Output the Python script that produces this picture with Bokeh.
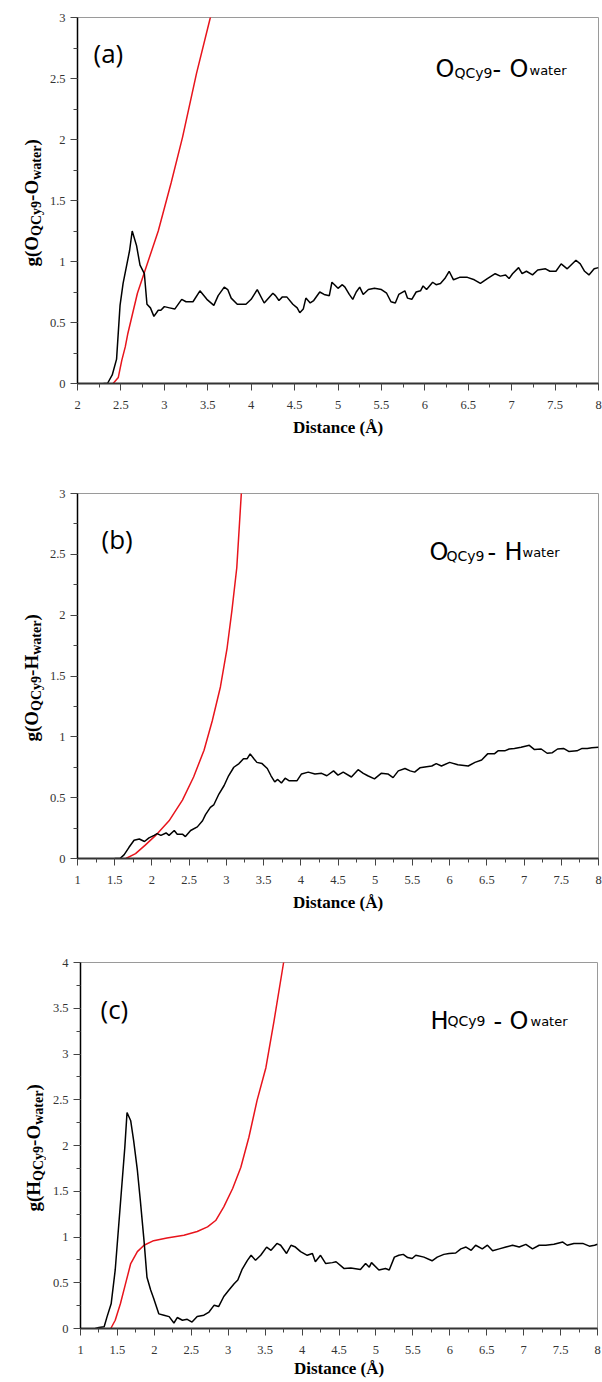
import math
from bokeh.plotting import figure
from bokeh.layouts import column, row
from bokeh.models import Range1d, SingleIntervalTicker, CustomJSTickFormatter, Label
from bokeh.embed import file_html
from bokeh.resources import INLINE

# ---------------- data ----------------
# (a) O_QCy9 - O_water
a_rdf_x = [2.30, 2.345, 2.40, 2.45, 2.49, 2.525, 2.60, 2.63, 2.68, 2.72, 2.77, 2.80, 2.84, 2.88, 2.93,
           2.96, 3.00, 3.06, 3.12, 3.20, 3.25, 3.33, 3.41, 3.49, 3.57, 3.62, 3.69, 3.73, 3.77, 3.84,
           3.94, 4.00, 4.07, 4.15, 4.25, 4.28, 4.32, 4.36, 4.41, 4.48, 4.53, 4.56, 4.60, 4.63, 4.68,
           4.72, 4.79, 4.84, 4.90, 4.93, 4.96, 5.00, 5.05, 5.08, 5.13, 5.17, 5.21, 5.25, 5.29, 5.35,
           5.42, 5.50, 5.56, 5.61, 5.66, 5.70, 5.77, 5.80, 5.85, 5.90, 5.95, 5.98, 6.02, 6.09, 6.13,
           6.18, 6.23, 6.28, 6.33, 6.40, 6.49, 6.57, 6.64, 6.72, 6.81, 6.87, 6.93, 6.97, 7.01, 7.08,
           7.12, 7.17, 7.24, 7.30, 7.39, 7.44, 7.51, 7.57, 7.64, 7.74, 7.79, 7.84, 7.89, 7.95, 8.00]
a_rdf_y = [0.00, 0.00, 0.07, 0.20, 0.64, 0.82, 1.09, 1.25, 1.13, 0.97, 0.90, 0.65, 0.62, 0.55, 0.60,
           0.60, 0.63, 0.62, 0.61, 0.69, 0.67, 0.67, 0.76, 0.69, 0.64, 0.72, 0.79, 0.77, 0.70, 0.65,
           0.65, 0.69, 0.77, 0.66, 0.74, 0.72, 0.68, 0.71, 0.71, 0.65, 0.62, 0.58, 0.61, 0.70, 0.66,
           0.68, 0.75, 0.73, 0.72, 0.83, 0.81, 0.78, 0.81, 0.79, 0.73, 0.69, 0.75, 0.79, 0.73, 0.77,
           0.78, 0.77, 0.74, 0.67, 0.66, 0.73, 0.76, 0.70, 0.69, 0.75, 0.76, 0.80, 0.77, 0.83, 0.81,
           0.82, 0.86, 0.92, 0.85, 0.87, 0.87, 0.85, 0.82, 0.86, 0.90, 0.88, 0.89, 0.86, 0.90, 0.95,
           0.90, 0.92, 0.89, 0.93, 0.94, 0.92, 0.92, 0.98, 0.94, 1.01, 0.98, 0.92, 0.89, 0.94, 0.95]
a_cn_x = [2.41, 2.47, 2.51, 2.55, 2.58, 2.69, 2.77, 2.93, 3.08, 3.21, 3.37, 3.53, 3.60]
a_cn_y = [0.00, 0.05, 0.19, 0.30, 0.41, 0.74, 0.91, 1.25, 1.65, 2.02, 2.54, 3.00, 3.22]

# (b) O_QCy9 - H_water
b_rdf_x = [1.50, 1.57, 1.625, 1.69, 1.76, 1.83, 1.90, 1.96, 2.03, 2.07, 2.12, 2.19, 2.23, 2.30, 2.34,
           2.41, 2.45, 2.52, 2.61, 2.68, 2.72, 2.785, 2.83, 2.90, 2.97, 3.03, 3.10, 3.17, 3.23, 3.28,
           3.32, 3.37, 3.41, 3.48, 3.55, 3.60, 3.65, 3.69, 3.74, 3.79, 3.84, 3.95, 4.01, 4.10, 4.19,
           4.28, 4.35, 4.44, 4.50, 4.57, 4.68, 4.77, 4.84, 4.90, 4.99, 5.08, 5.17, 5.24, 5.31, 5.40,
           5.47, 5.53, 5.60, 5.69, 5.76, 5.82, 5.89, 6.00, 6.11, 6.25, 6.34, 6.43, 6.51, 6.60, 6.65,
           6.74, 6.80, 6.87, 6.96, 7.07, 7.14, 7.23, 7.31, 7.38, 7.45, 7.53, 7.60, 7.71, 7.78, 7.85,
           7.91, 8.00]
b_rdf_y = [0.00, 0.00, 0.03, 0.09, 0.15, 0.16, 0.14, 0.17, 0.19, 0.205, 0.19, 0.21, 0.19, 0.23, 0.20,
           0.20, 0.18, 0.23, 0.26, 0.31, 0.36, 0.42, 0.44, 0.53, 0.60, 0.68, 0.75, 0.78, 0.82, 0.82,
           0.86, 0.82, 0.79, 0.78, 0.74, 0.68, 0.63, 0.65, 0.62, 0.66, 0.64, 0.64, 0.695, 0.71, 0.695,
           0.70, 0.68, 0.72, 0.685, 0.71, 0.67, 0.73, 0.70, 0.68, 0.655, 0.70, 0.695, 0.665, 0.72, 0.74,
           0.72, 0.71, 0.745, 0.755, 0.76, 0.78, 0.76, 0.79, 0.77, 0.76, 0.79, 0.81, 0.86, 0.86, 0.885,
           0.885, 0.90, 0.905, 0.915, 0.93, 0.895, 0.90, 0.865, 0.87, 0.90, 0.905, 0.88, 0.885, 0.905, 0.905,
           0.91, 0.915]
b_cn_x = [1.65, 1.78, 1.91, 2.05, 2.23, 2.41, 2.56, 2.70, 2.81, 2.92, 3.01, 3.075, 3.14, 3.20, 3.22]
b_cn_y = [0.00, 0.04, 0.11, 0.19, 0.31, 0.48, 0.67, 0.89, 1.13, 1.41, 1.73, 2.04, 2.39, 2.99, 3.20]

# (c) H_QCy9 - O_water
c_rdf_x = [1.20, 1.25, 1.32, 1.36, 1.415, 1.47, 1.54, 1.60, 1.63, 1.68, 1.72, 1.77, 1.81, 1.86, 1.90,
           1.95, 1.99, 2.06, 2.13, 2.20, 2.265, 2.31, 2.38, 2.445, 2.51, 2.58, 2.67, 2.74, 2.81, 2.87,
           2.94, 3.01, 3.08, 3.13, 3.19, 3.26, 3.31, 3.37, 3.44, 3.52, 3.58, 3.66, 3.71, 3.79, 3.85,
           3.91, 3.98, 4.07, 4.14, 4.18, 4.25, 4.32, 4.41, 4.46, 4.57, 4.66, 4.79, 4.86, 4.91, 4.94,
           5.04, 5.13, 5.18, 5.25, 5.31, 5.37, 5.43, 5.49, 5.54, 5.65, 5.76, 5.83, 5.92, 5.99, 6.08,
           6.15, 6.22, 6.29, 6.35, 6.44, 6.51, 6.58, 6.67, 6.76, 6.85, 6.94, 7.03, 7.12, 7.21, 7.30,
           7.41, 7.53, 7.59, 7.68, 7.80, 7.89, 7.96, 8.00]
c_rdf_y = [0.00, 0.01, 0.02, 0.13, 0.27, 0.64, 1.36, 1.98, 2.36, 2.27, 2.05, 1.73, 1.40, 0.96, 0.56,
           0.42, 0.33, 0.16, 0.145, 0.13, 0.06, 0.12, 0.09, 0.10, 0.07, 0.13, 0.145, 0.18, 0.255, 0.24,
           0.35, 0.42, 0.49, 0.53, 0.65, 0.745, 0.80, 0.745, 0.80, 0.89, 0.855, 0.93, 0.91, 0.82, 0.91,
           0.89, 0.84, 0.80, 0.82, 0.73, 0.80, 0.71, 0.72, 0.73, 0.655, 0.66, 0.645, 0.71, 0.67, 0.72,
           0.64, 0.655, 0.64, 0.78, 0.80, 0.81, 0.775, 0.765, 0.80, 0.78, 0.74, 0.78, 0.81, 0.82, 0.825,
           0.87, 0.89, 0.855, 0.91, 0.87, 0.91, 0.85, 0.87, 0.89, 0.91, 0.89, 0.92, 0.87, 0.91, 0.91,
           0.92, 0.945, 0.91, 0.93, 0.93, 0.90, 0.91, 0.92]
c_cn_x = [1.41, 1.47, 1.54, 1.61, 1.68, 1.77, 1.86, 1.99, 2.17, 2.40, 2.58, 2.72, 2.83, 2.94, 3.06,
          3.17, 3.28, 3.39, 3.51, 3.62, 3.75, 3.78]
c_cn_y = [0.00, 0.09, 0.27, 0.49, 0.71, 0.84, 0.91, 0.96, 0.99, 1.02, 1.06, 1.11, 1.18, 1.33, 1.53,
          1.76, 2.09, 2.49, 2.85, 3.36, 4.00, 4.15]

x_axis_title = "Distance (Å)"
panel_tags = ["(a)", "(b)", "(c)"]
# y-axis title pieces: (text, is_subscript)
ylab_a = [("g(O", False), ("QCy9", True), ("-O", False), ("water", True), (" )", False)]
ylab_b = [("g(O", False), ("QCy9", True), ("-H", False), ("water", True), (" )", False)]
ylab_c = [("g(H", False), ("QCy9", True), ("-O", False), ("water", True), (" )", False)]
# in-plot pair titles: (text, dx, dy, size)
pair_a = [("O", 358, 315, 24), ("QCy9", 377, 311, 14), ("-", 415, 315, 24), ("O", 432, 315, 24), ("water", 452, 313, 13)]
pair_b = [("O", 352, 307, 24), ("QCy9", 369, 303, 14), ("-", 410, 307, 24), ("H", 427, 307, 24), ("water", 445, 306, 13)]
pair_c = [("H", 350, 308, 24), ("QCy9", 367, 308, 14), ("-", 413, 308, 24), ("O", 429, 308, 24), ("water", 450, 307, 13)]

SERIF = "Liberation Serif"
SANS = "DejaVu Sans"
TAGF = "Open Sans"

# Times bold width table (em)
TW = {"g": .5, "(": .333, ")": .333, "O": .778, "H": .778, "Q": .778, "C": .722, "y": .5, "9": .5,
      "-": .333, "w": .722, "a": .5, "t": .333, "e": .444, "r": .444, " ": .25}

LABW = 46  # width of the strip holding the rotated y title


def make_panel(xr, yr, yint, frame_left, frame_w, top, frame_h, bottom, base_x,
               rdf_x, rdf_y, cn_x, cn_y, ylab, pair, tag, tag_dx, tag_dy, tick_so, lab_so):
    height = top + frame_h + bottom
    width = 602 - LABW
    left = frame_left - LABW
    p = figure(width=width, height=height, x_range=Range1d(*xr), y_range=Range1d(*yr),
               output_backend="svg", toolbar_location=None,
               min_border_left=left, min_border_right=width - left - frame_w,
               min_border_top=top, min_border_bottom=bottom)
    p.background_fill_color = "white"
    p.border_fill_color = "white"
    p.outline_line_color = "#9a9a9a"
    p.outline_line_width = 1
    p.grid.visible = False

    fmt = CustomJSTickFormatter(code="return String(Math.round(tick*100)/100);")
    p.xaxis.ticker = SingleIntervalTicker(interval=0.5, num_minor_ticks=2)
    p.yaxis.ticker = SingleIntervalTicker(interval=yint, num_minor_ticks=2)
    for ax in (p.xaxis[0], p.yaxis[0]):
        ax.formatter = fmt
        ax.major_tick_in = 0
        ax.major_tick_out = 7
        ax.minor_tick_in = 0
        ax.minor_tick_out = 4
        ax.major_tick_line_color = "#444444"
        ax.minor_tick_line_color = "#444444"
        ax.major_label_text_font = SERIF
        ax.major_label_text_font_size = "12.5px"
        ax.major_label_text_color = "#333333"
    p.yaxis.axis_line_color = "black"
    p.yaxis.axis_line_width = 1.5
    p.yaxis.major_label_standoff = 5
    p.xaxis.axis_line_color = "#333333"
    p.xaxis.axis_line_width = 2
    p.xaxis.major_label_standoff = tick_so
    p.xaxis.axis_label = x_axis_title
    p.xaxis.axis_label_text_font = SERIF
    p.xaxis.axis_label_text_font_style = "bold"
    p.xaxis.axis_label_text_font_size = "17px"
    p.xaxis.axis_label_text_color = "black"
    p.xaxis.axis_label_standoff = lab_so

    p.line(cn_x, cn_y, line_color="#e8141c", line_width=1.5)
    p.line(rdf_x, rdf_y, line_color="black", line_width=1.5)

    for txt, dx, dy, size in pair:
        p.add_layout(Label(x=xr[0], y=yr[0], x_offset=dx, y_offset=dy, text=txt,
                           text_font=SANS, text_font_size=f"{size}px",
                           text_align="left", text_baseline="alphabetic", text_color="black"))
    p.add_layout(Label(x=xr[0], y=yr[0], x_offset=tag_dx, y_offset=tag_dy, text=tag,
                       text_font=TAGF, text_font_size="26px",
                       text_align="left", text_baseline="alphabetic", text_color="black"))

    # strip on the left with the rotated y title assembled from pieces;
    # it shares the panel's vertical geometry so offsets are in pixels above the x axis
    s = figure(width=LABW, height=height, x_range=Range1d(0, LABW), y_range=Range1d(*yr),
               output_backend="svg", toolbar_location=None, x_axis_location=None,
               y_axis_location=None, min_border_left=0, min_border_right=0,
               min_border_top=top, min_border_bottom=bottom, outline_line_color=None)
    s.grid.visible = False
    pos = 117.0
    for txt, sub in ylab:
        size = 14 if sub else 19
        baseline = base_x + (4 if sub else 0)
        s.add_layout(Label(x=baseline - 0.34 * size, y=yr[0], y_offset=pos, text=txt,
                           angle=math.pi / 2, angle_units="rad",
                           text_font=SERIF, text_font_style="bold", text_font_size=f"{size}px",
                           text_align="left", text_baseline="middle", text_color="black"))
        pos += sum(TW.get(ch, .5) for ch in txt) * size
    return row(s, p, spacing=0)


pa = make_panel((2, 8), (0, 3), 0.5, 76, 522, 17, 366, 87, 37,
                a_rdf_x, a_rdf_y, a_cn_x, a_cn_y, ylab_a, pair_a, panel_tags[0], 16, 331, 10, 6)
pb = make_panel((1, 8), (0, 3), 0.5, 75, 523, 23, 365, 82, 37,
                b_rdf_x, b_rdf_y, b_cn_x, b_cn_y, ylab_b, pair_b, panel_tags[1], 24, 320, 10, 6)
pc = make_panel((1, 8), (0, 4), 0.5, 80, 517, 22, 366, 54, 39,
                c_rdf_x, c_rdf_y, c_cn_x, c_cn_y, ylab_c, pair_c, panel_tags[2], 20, 320, 10, 2)

layout = column(pa, pb, pc, spacing=0)
open("out.html", "w").write(file_html(layout, INLINE))
